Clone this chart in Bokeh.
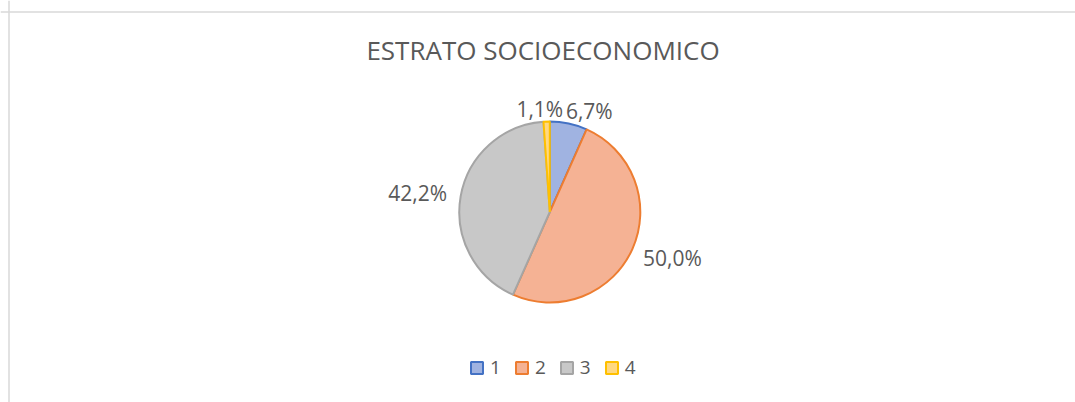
import math
from bokeh.plotting import figure
from bokeh.models import ColumnDataSource, Range1d, Span, Legend, LegendItem
from bokeh.core.properties import value
from bokeh.embed import file_html
from bokeh.resources import INLINE

# ---- data ----
title_text = "ESTRATO SOCIOECONOMICO"
categories = ["1", "2", "3", "4"]
counts = [6, 45, 38, 1]
fill_colors = ["#A0B3E1", "#F5B294", "#C8C8C8", "#FFD882"]
line_colors = ["#4472C4", "#ED7D31", "#A5A5A5", "#FFC000"]

TEXT_COLOR = "#595959"
FONT = "Open Sans"
BASE_SHIFT = 0.38  # baseline correction, in em

W, H = 1075, 402
p = figure(width=W, height=H, x_range=Range1d(0, W), y_range=Range1d(0, H),
           output_backend="svg", toolbar_location=None, min_border=0,
           x_axis_location=None, y_axis_location=None)
p.grid.visible = False
p.outline_line_color = None
p.background_fill_color = "white"
p.border_fill_color = "white"

# chart area border (top and left visible)
p.add_layout(Span(location=H - 11.5, dimension="width", line_color="#D9D9D9", line_width=1.5))
p.add_layout(Span(location=8.5, dimension="height", line_color="#D9D9D9", line_width=1.5))

# ---- pie ----
cx, cy, R = 549.3, 190.5, 90.5
total = sum(counts)
fracs = [c / total for c in counts]
cum = [0.0]
for f in fracs:
    cum.append(cum[-1] + f)
start = [math.pi / 2 - 2 * math.pi * cum[i] for i in range(len(counts))]
end = [math.pi / 2 - 2 * math.pi * cum[i + 1] for i in range(len(counts))]

src = ColumnDataSource(dict(cat=categories, start=start, end=end,
                            fill=fill_colors, line=line_colors))
r = p.wedge(x=cx, y=cy, radius=R, start_angle="start", end_angle="end",
            direction="clock", fill_color="fill", line_color="line",
            line_width=2, source=src)

# ---- data labels (outside end) ----
FS = 21
cw = {"0": .572, "1": .572, "2": .572, "3": .572, "4": .572, "5": .572,
      "6": .572, "7": .572, "8": .572, "9": .572, ",": .26, "%": .856}
labels = [f"{f*100:.1f}".replace(".", ",") + "%" for f in fracs]
gap, padx, half_cap, pad_top = 5, 9, 7.3, 11
boxes = []
for i, lab in enumerate(labels):
    th = 2 * math.pi * (cum[i] + cum[i + 1]) / 2
    ux, uy = math.sin(th), math.cos(th)
    tw = sum(cw.get(ch, .57) for ch in lab) * FS
    hw = tw / 2
    hh = half_cap + (pad_top if uy < 0 else 0)
    lx = cx + (R + gap) * ux + (hw + padx) * ux
    ly = cy + (R + gap) * uy + hh * uy
    boxes.append([lx - hw, lx + hw, ly - 9, ly + 9])

# resolve overlaps horizontally (push mostly toward the clockwise side)
for _ in range(5):
    for i in range(len(boxes)):
        for j in range(i + 1, len(boxes)):
            a, b = boxes[i], boxes[j]
            if a[0] < b[1] and b[0] < a[1] and a[2] < b[3] and b[2] < a[3]:
                left, right = (a, b) if (a[0] + a[1]) < (b[0] + b[1]) else (b, a)
                ov = left[1] - right[0] + 2
                left[0] -= ov * 0.3; left[1] -= ov * 0.3
                right[0] += ov * 0.7; right[1] += ov * 0.7

lsrc = ColumnDataSource(dict(x=[(b[0] + b[1]) / 2 for b in boxes],
                             y=[(b[2] + b[3]) / 2 - half_cap + BASE_SHIFT * FS for b in boxes],
                             text=labels))
p.text(x="x", y="y", text="text", source=lsrc, text_align="center",
       text_baseline="alphabetic", text_font=value(FONT),
       text_font_size=f"{FS}px", text_color=TEXT_COLOR)

# ---- title ----
TFS = 26
p.text(x=[542.5], y=[H - 59 + BASE_SHIFT * TFS], text=[title_text], text_align="center",
       text_baseline="alphabetic", text_font=value(FONT),
       text_font_size=f"{TFS}px", text_color=TEXT_COLOR)

# ---- legend ----
items = [LegendItem(label=c, renderers=[r], index=i) for i, c in enumerate(categories)]
legend = Legend(items=items, orientation="horizontal", location=(469, 22),
                glyph_width=15, glyph_height=15, label_standoff=6, spacing=13,
                padding=0, margin=0, border_line_color=None,
                background_fill_alpha=0, label_text_font=FONT,
                label_text_font_size="19px", label_text_color=TEXT_COLOR,
                label_height=15, label_width=10)
p.add_layout(legend)

open("out.html", "w").write(file_html(p, INLINE))
